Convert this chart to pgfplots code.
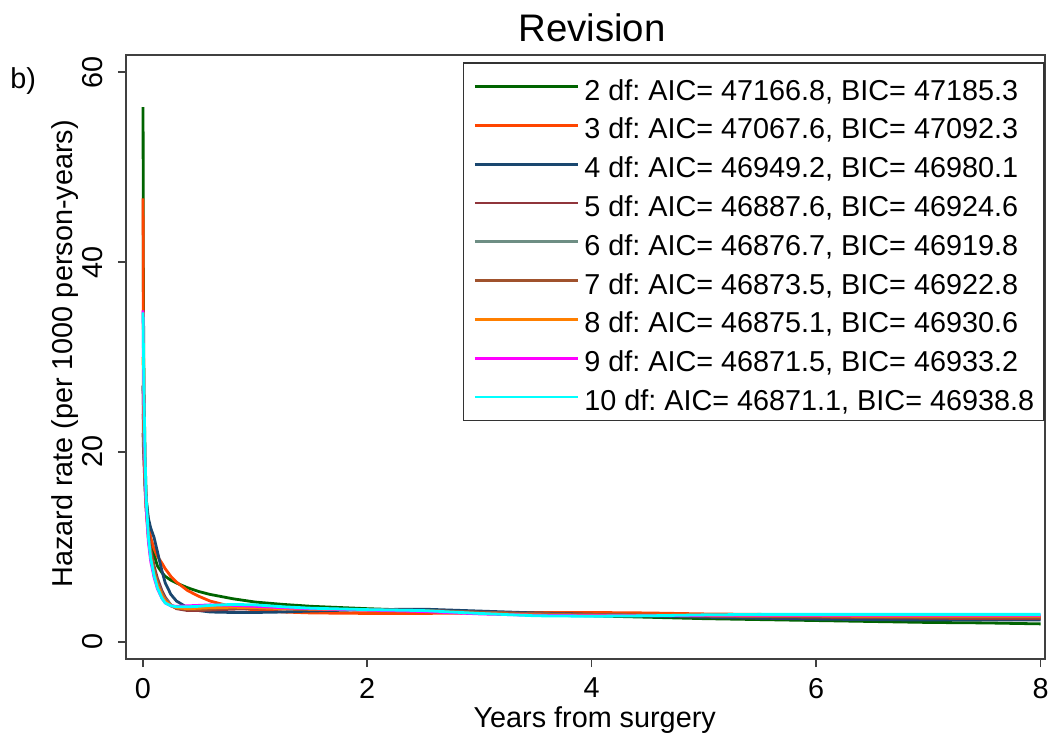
\documentclass[border=0pt]{standalone}
\usepackage{fontspec}
\setmainfont{Liberation Sans}
\usepackage{pgfplots}
\usepackage{pgfplotstable}
\pgfplotsset{compat=1.18}
\definecolor{c2}{RGB}{0,100,0}
\definecolor{c3}{RGB}{255,69,0}
\definecolor{c4}{RGB}{26,71,111}
\definecolor{c5}{RGB}{144,53,59}
\definecolor{c6}{RGB}{110,142,132}
\definecolor{c7}{RGB}{160,82,45}
\definecolor{c8}{RGB}{255,127,0}
\definecolor{c9}{RGB}{255,0,255}
\definecolor{c10}{RGB}{0,255,255}
\pgfplotstableread{
x d2 d3 d4 d5 d6 d7 d8 d9 d10
0.002 56.3 46.7 27 22 24 27 30 34.9 34.7
0.005 37 33 24 20.5 22 25 27 30 31
0.01 27 24.5 20 19 20 22 23 24.5 26
0.02 19.5 18 16.5 16 16.5 17.5 17.5 18 19.5
0.03 15.2 14.8 15 14 14 14.5 14 14 15
0.05 12.2 12.3 13 11.5 11 11.3 10.8 10.5 11
0.07 10.7 11.0 12 9.8 9.2 9.3 8.9 8.5 8.8
0.1 9.2 9.8 11 8.0 7.5 7.5 7.2 6.8 7.0
0.13 8.0 9.0 9.5 6.7 6.3 6.2 6.0 5.6 5.7
0.17 7.3 8.3 7.5 5.4 5.1 5.0 4.9 4.6 4.6
0.2 6.9 7.7 6.2 4.7 4.5 4.4 4.3 4.1 4.1
0.25 6.5 6.9 5.0 3.9 3.9 3.8 3.85 3.8 3.8
0.3 6.2 6.3 4.3 3.5 3.6 3.55 3.6 3.75 3.7
0.4 5.7 5.4 3.6 3.3 3.45 3.4 3.5 3.8 3.7
0.5 5.3 4.8 3.3 3.3 3.45 3.4 3.55 3.85 3.75
0.6 5.0 4.3 3.15 3.35 3.5 3.45 3.6 3.9 3.85
0.8 4.55 3.7 3.1 3.45 3.6 3.55 3.65 3.85 3.95
1 4.2 3.35 3.1 3.5 3.6 3.55 3.6 3.75 3.9
1.25 3.95 3.15 3.15 3.5 3.55 3.5 3.5 3.6 3.7
1.5 3.75 3.05 3.25 3.45 3.5 3.45 3.45 3.5 3.55
2 3.5 3.0 3.4 3.4 3.4 3.35 3.35 3.35 3.4
2.5 3.3 3.0 3.45 3.3 3.3 3.3 3.25 3.2 3.3
3 3.1 3.05 3.25 3.15 3.1 3.1 3.0 2.95 3.0
3.5 2.9 3.1 3.05 3.0 2.95 2.95 2.85 2.8 2.75
4 2.75 3.1 2.9 2.9 2.85 2.85 2.8 2.75 2.7
4.5 2.6 3.05 2.75 2.8 2.8 2.8 2.8 2.75 2.75
5 2.45 2.95 2.6 2.7 2.75 2.75 2.8 2.8 2.85
5.5 2.35 2.9 2.5 2.65 2.7 2.7 2.75 2.8 2.9
6 2.25 2.8 2.4 2.6 2.7 2.65 2.75 2.8 2.9
6.5 2.15 2.75 2.35 2.55 2.65 2.65 2.7 2.8 2.9
7 2.05 2.7 2.3 2.5 2.65 2.6 2.7 2.8 2.9
7.5 2.0 2.65 2.3 2.45 2.65 2.6 2.7 2.8 2.9
8 1.9 2.6 2.3 2.45 2.65 2.6 2.7 2.8 2.9
}\hazard
\newcommand{\fs}{\fontsize{14.4}{17}\selectfont\frenchspacing}
\begin{document}
\frenchspacing
\begin{tikzpicture}
\useasboundingbox (-63pt,-38.5pt) rectangle (461.5pt,329.5pt);
\begin{axis}[
  at={(0,0)}, anchor=south west,
  scale only axis, width=459.5pt, height=302pt,
  xmin=-0.15, xmax=8.04, ymin=-1.8, ymax=61.8,
  xtick={0,2,4,6,8}, ytick={0,20,40,60},
  xtick pos=left, ytick pos=left,
  tick align=outside, major tick length=4pt,
  axis line style={black!75, line width=0.8pt},
  every tick/.style={black!75, line width=0.8pt},
  /pgf/number format/assume math mode=true,
  ticklabel style={font=\fs},
  xticklabel style={anchor=north, inner sep=0pt},
  yticklabel style={rotate=90, anchor=south, inner sep=0pt},
  xticklabel shift=5.35pt,
  yticklabel shift=7.35pt,
  title={Revision},
  title style={at={(0.507,1)}, anchor=base, yshift=1pt, font=\fontsize{19.2}{23}\selectfont, inner sep=0pt},
  xlabel={Years from surgery},
  xlabel style={at={(axis description cs:0.51,0)}, anchor=base, yshift=-34pt, font=\fs, inner sep=0pt},
  ylabel={Hazard rate (per 1000 person-years)},
  ylabel style={at={(axis description cs:-0.0664,0.505)}, anchor=center, font=\fs},
  legend style={at={(1,0.988)}, anchor=north east, draw=black!80, line width=0.8pt,
    font=\fs, inner xsep=5pt, inner ysep=5pt, row sep=5.9pt, column sep=2.5pt,
    nodes={inner sep=0pt, text height=13.5pt, text depth=0pt}},
  legend cell align=left,
  legend image code/.code={\draw[#1, line width=1.4pt] (0pt,0pt) -- (51.5pt,0pt);},
  every axis plot/.append style={line width=1.4pt},
]
\addplot[c2] table[x=x, y=d2] {\hazard};
\addplot[c3] table[x=x, y=d3] {\hazard};
\addplot[c4] table[x=x, y=d4] {\hazard};
\addplot[c5] table[x=x, y=d5] {\hazard};
\addplot[c6] table[x=x, y=d6] {\hazard};
\addplot[c7] table[x=x, y=d7] {\hazard};
\addplot[c8] table[x=x, y=d8] {\hazard};
\addplot[c9] table[x=x, y=d9] {\hazard};
\addplot[c10] table[x=x, y=d10] {\hazard};
\legend{{2 df: AIC= 47166.8, BIC= 47185.3},
        {3 df: AIC= 47067.6, BIC= 47092.3},
        {4 df: AIC= 46949.2, BIC= 46980.1},
        {5 df: AIC= 46887.6, BIC= 46924.6},
        {6 df: AIC= 46876.7, BIC= 46919.8},
        {7 df: AIC= 46873.5, BIC= 46922.8},
        {8 df: AIC= 46875.1, BIC= 46930.6},
        {9 df: AIC= 46871.5, BIC= 46933.2},
        {10 df: AIC= 46871.1, BIC= 46938.8}}
\end{axis}
\node[anchor=base west, inner sep=0pt, font=\fs] at (-58pt,285.5pt) {b)};
\end{tikzpicture}
\end{document}
